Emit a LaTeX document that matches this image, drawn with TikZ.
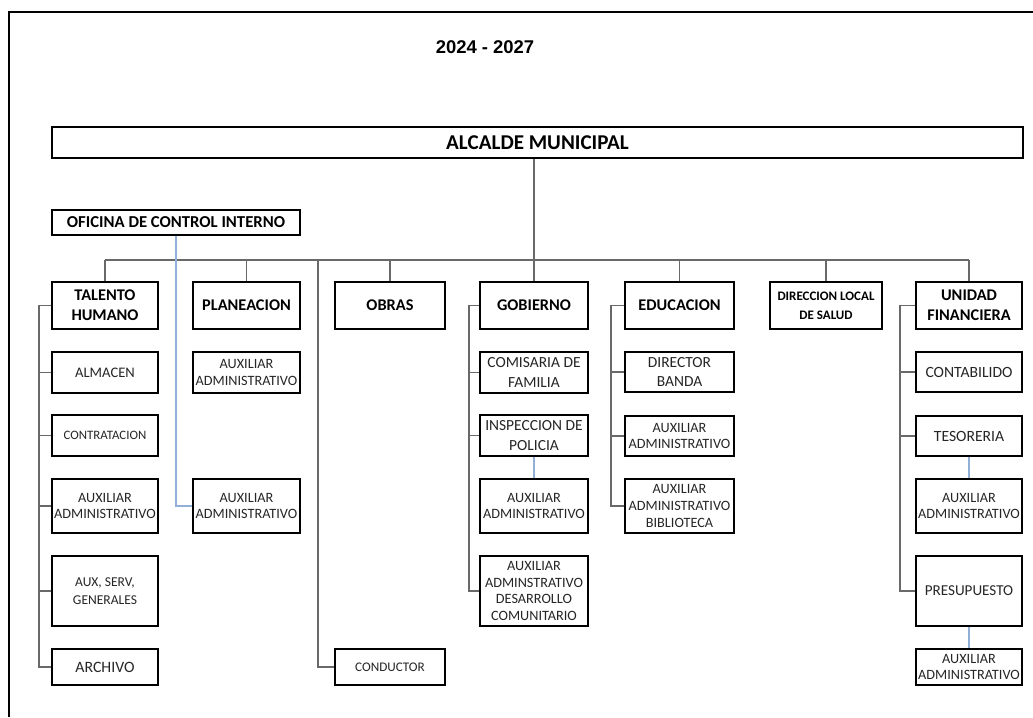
\documentclass[tikz,border=0pt]{standalone}
\usepackage{xcolor}
\usepackage{tikz}
\usepackage{fontspec}
\setmainfont{Carlito}
\newfontfamily\yearfont{Liberation Sans}
\definecolor{linkgray}{RGB}{105,105,105}
\definecolor{linkblue}{RGB}{145,175,215}

\tikzset{
    unit/.style={draw=black, line width=1.3pt, fill=white, align=center, inner sep=1pt,
        font=\bfseries\fontsize{9.3}{11.4}\selectfont},
    subunit/.style={draw=black, line width=1.3pt, fill=white, align=center, inner sep=1pt,
        text=black!85, font=\fontsize{8.1}{9.5}\selectfont},
    link/.style={draw=linkgray, line width=0.8pt},
    bluelink/.style={draw=linkblue, line width=0.8pt}
}

\begin{document}
\begin{tikzpicture}[x=0.02cm, y=-0.02cm]
        \useasboundingbox (0,0) rectangle (1033,717);
        \draw[line width=1.2pt] (9,717) -- (9,12) -- (1033,12);

        \node[font=\yearfont\bfseries\fontsize{10.5}{12}\selectfont] (anio) at (485,47) {2024 - 2027};
        \node[unit, minimum width=19.42cm, minimum height=0.62cm, font=\bfseries\fontsize{12}{14}\selectfont] (alcalde) at (537.5,142.5) {ALCALDE MUNICIPAL};
        \node[unit, minimum width=4.96cm, minimum height=0.5cm, font=\bfseries\fontsize{9.5}{11}\selectfont] (oficina) at (176,222.5) {OFICINA DE CONTROL INTERNO};

        \node[unit, minimum width=2.12cm, minimum height=0.94cm] (talento) at (105,305.5) {TALENTO\\HUMANO};
        \node[unit, minimum width=2.14cm, minimum height=0.94cm] (planeacion) at (246.5,305.5) {PLANEACION};
        \node[unit, minimum width=2.20cm, minimum height=0.94cm] (obras) at (390,305.5) {OBRAS};
        \node[unit, minimum width=2.16cm, minimum height=0.94cm] (gobierno) at (534,305.5) {GOBIERNO};
        \node[unit, minimum width=2.18cm, minimum height=0.94cm] (educacion) at (679.5,305.5) {EDUCACION};
        \node[unit, minimum width=2.24cm, minimum height=0.94cm, font=\bfseries\fontsize{7.4}{11}\selectfont] (salud) at (826,305.5) {DIRECCION LOCAL\\DE SALUD};
        \node[unit, minimum width=2.12cm, minimum height=0.94cm] (unidad) at (969,305.5) {UNIDAD\\FINANCIERA};

        \node[subunit, minimum width=2.12cm, minimum height=0.82cm, font=\fontsize{8.3}{9.5}\selectfont] (almacen) at (105,372.5) {ALMACEN};
        \node[subunit, minimum width=2.12cm, minimum height=0.82cm, font=\fontsize{7.3}{9.5}\selectfont] (contratacion) at (105,435.5) {CONTRATACION};
        \node[subunit, minimum width=2.12cm, minimum height=1.08cm] (auxth) at (105,506) {AUXILIAR\\ADMINISTRATIVO};
        \node[subunit, minimum width=2.12cm, minimum height=1.40cm, font=\fontsize{7.7}{10}\selectfont] (auxserv) at (105,591) {AUX, SERV,\\GENERALES};
        \node[subunit, minimum width=2.12cm, minimum height=0.72cm, font=\fontsize{9}{10}\selectfont] (archivo) at (105,667) {ARCHIVO};

        \node[subunit, minimum width=2.14cm, minimum height=0.82cm] (auxpl1) at (246.5,372.5) {AUXILIAR\\ADMINISTRATIVO};
        \node[subunit, minimum width=2.14cm, minimum height=1.08cm] (auxpl2) at (246.5,506) {AUXILIAR\\ADMINISTRATIVO};

        \node[subunit, minimum width=2.20cm, minimum height=0.72cm, font=\fontsize{7.5}{10}\selectfont] (conductor) at (390,667) {CONDUCTOR};

        \node[subunit, minimum width=2.16cm, minimum height=0.82cm, font=\fontsize{8.8}{11}\selectfont] (comisaria) at (534,372.5) {COMISARIA DE\\FAMILIA};
        \node[subunit, minimum width=2.16cm, minimum height=0.82cm, font=\fontsize{8.8}{11}\selectfont] (inspeccion) at (534,435.5) {INSPECCION DE\\POLICIA};
        \node[subunit, minimum width=2.16cm, minimum height=1.08cm] (auxgob) at (534,506) {AUXILIAR\\ADMINISTRATIVO};
        \node[subunit, minimum width=2.16cm, minimum height=1.40cm] (desarrollo) at (534,591) {AUXILIAR\\ADMINSTRATIVO\\DESARROLLO\\COMUNITARIO};

        \node[subunit, minimum width=2.18cm, minimum height=0.80cm, font=\fontsize{8.8}{11}\selectfont] (director) at (679.5,372) {DIRECTOR\\BANDA};
        \node[subunit, minimum width=2.18cm, minimum height=0.80cm] (auxedu) at (679.5,436) {AUXILIAR\\ADMINISTRATIVO};
        \node[subunit, minimum width=2.18cm, minimum height=1.08cm] (biblioteca) at (679.5,506) {AUXILIAR\\ADMINISTRATIVO\\BIBLIOTECA};

        \node[subunit, minimum width=2.12cm, minimum height=0.80cm, font=\fontsize{8.9}{11}\selectfont] (contabilido) at (969,372) {CONTABILIDO};
        \node[subunit, minimum width=2.12cm, minimum height=0.80cm, font=\fontsize{8.9}{11}\selectfont] (tesoreria) at (969,436) {TESORERIA};
        \node[subunit, minimum width=2.12cm, minimum height=1.08cm] (auxun1) at (969,506) {AUXILIAR\\ADMINISTRATIVO};
        \node[subunit, minimum width=2.12cm, minimum height=1.40cm, font=\fontsize{8.6}{11}\selectfont] (presupuesto) at (969,591) {PRESUPUESTO};
        \node[subunit, minimum width=2.12cm, minimum height=0.72cm] (auxun2) at (969,667) {AUXILIAR\\ADMINISTRATIVO};

        \coordinate (bus) at (0,260);
        \coordinate (cdrop) at (318,260);
        \draw[link] (alcalde.south -| gobierno.north) -- (gobierno.north);
        \draw[link] (talento.north |- bus) -- (unidad.north |- bus);
        \foreach \n in {talento,planeacion,obras,educacion,salud,unidad}
                \draw[link] (\n.north |- bus) -- (\n.north);
        \draw[link] (cdrop) |- (conductor.west);
        \draw[bluelink] (oficina.south) |- (auxpl2.west);

        \draw[link] (talento.west) -- ++(-12,0) coordinate (thsp) |- (archivo.west);
        \foreach \n in {almacen,contratacion,auxth,auxserv}
                \draw[link] (thsp |- \n.west) -- (\n.west);
        \draw[link] (gobierno.west) -- ++(-10,0) coordinate (gbsp) |- (desarrollo.west);
        \foreach \n in {comisaria,inspeccion}
                \draw[link] (gbsp |- \n.west) -- (\n.west);
        \draw[bluelink] (inspeccion.south) -- (auxgob.north);
        \draw[link] (educacion.west) -- ++(-13,0) coordinate (edsp) |- (biblioteca.west);
        \foreach \n in {director,auxedu}
                \draw[link] (edsp |- \n.west) -- (\n.west);
        \draw[link] (unidad.west) -- ++(-15,0) coordinate (unsp) |- (presupuesto.west);
        \foreach \n in {contabilido,tesoreria}
                \draw[link] (unsp |- \n.west) -- (\n.west);
        \draw[bluelink] (tesoreria.south) -- (auxun1.north);
        \draw[bluelink] (presupuesto.south) -- (auxun2.north);
    \end{tikzpicture}
\end{document}
